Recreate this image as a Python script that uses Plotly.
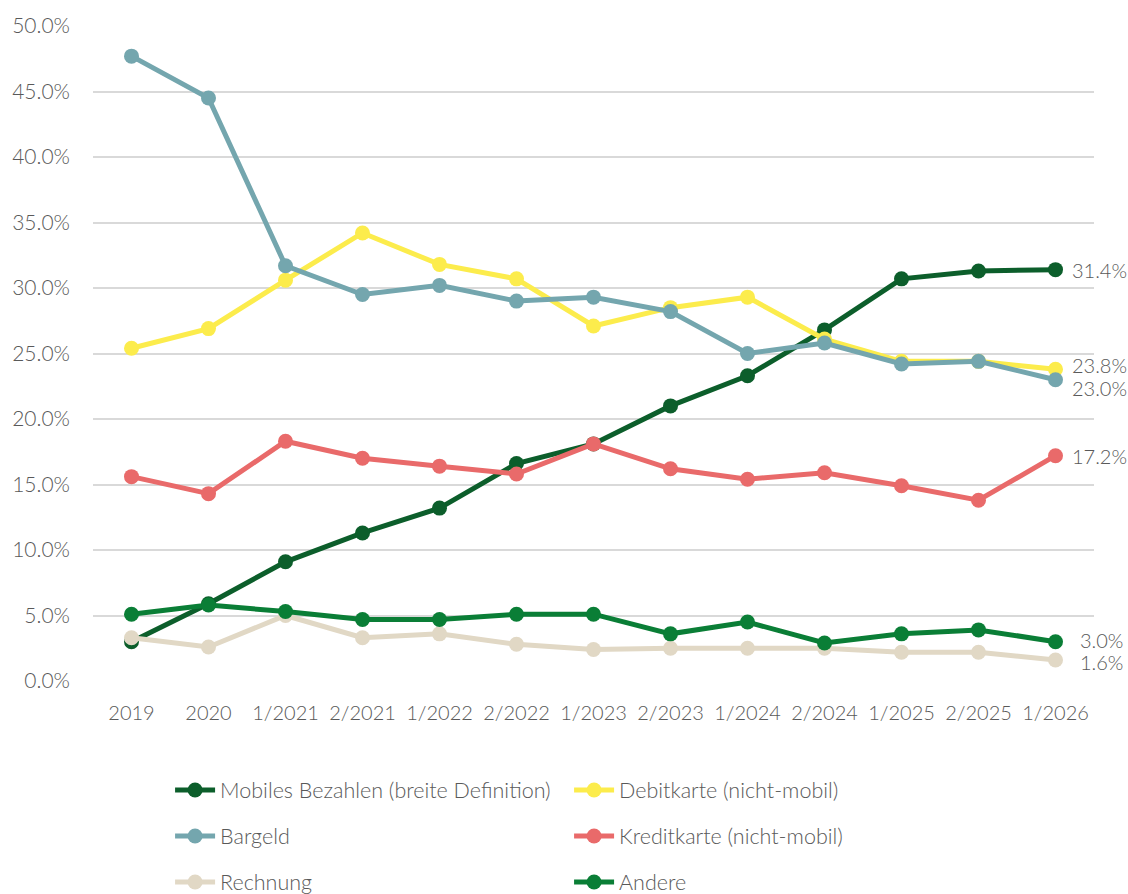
import plotly.graph_objects as go

periods = ["2019", "2020", "1/2021", "2/2021", "1/2022", "2/2022", "1/2023",
           "2/2023", "1/2024", "2/2024", "1/2025", "2/2025", "1/2026"]

mobiles = [3.0, 5.9, 9.1, 11.3, 13.2, 16.6, 18.1, 21.0, 23.3, 26.8, 30.7, 31.3, 31.4]
debitkarte = [25.4, 26.9, 30.6, 34.2, 31.8, 30.7, 27.1, 28.5, 29.3, 26.1, 24.4, 24.4, 23.8]
bargeld = [47.7, 44.5, 31.7, 29.5, 30.2, 29.0, 29.3, 28.2, 25.0, 25.8, 24.2, 24.4, 23.0]
kreditkarte = [15.6, 14.3, 18.3, 17.0, 16.4, 15.8, 18.1, 16.2, 15.4, 15.9, 14.9, 13.8, 17.2]
rechnung = [3.3, 2.6, 5.0, 3.3, 3.6, 2.8, 2.4, 2.5, 2.5, 2.5, 2.2, 2.2, 1.6]
andere = [5.1, 5.8, 5.3, 4.7, 4.7, 5.1, 5.1, 3.6, 4.5, 2.9, 3.6, 3.9, 3.0]

series = [
    ("Mobiles Bezahlen (breite Definition)", mobiles, "#0c5e2b", "legend"),
    ("Debitkarte (nicht-mobil)", debitkarte, "#fcec4c", "legend"),
    ("Bargeld", bargeld, "#74a6ae", "legend2"),
    ("Kreditkarte (nicht-mobil)", kreditkarte, "#e96a6a", "legend2"),
    ("Rechnung", rechnung, "#e1d8c5", "legend3"),
    ("Andere", andere, "#0a7e36", "legend3"),
]

# end-of-line value labels: (values, x shift, y shift)
end_labels = [
    (mobiles, 14, 0),
    (debitkarte, 14, 4),
    (bargeld, 14, -8),
    (kreditkarte, 14, 0),
    (andere, 22, 2),
    (rechnung, 22, -2),
]

FONT = "Lato"
GREY = "#595959"

fig = go.Figure()
for name, vals, color, lg in series:
    fig.add_trace(go.Scatter(
        x=periods, y=vals, name=name, mode="lines+markers",
        line=dict(color=color, width=5),
        marker=dict(color=color, size=15),
        legend=lg, cliponaxis=False,
    ))

for vals, dx, dy in end_labels:
    fig.add_annotation(
        x=periods[-1], y=vals[-1], text=f"{vals[-1]:.1f}%",
        showarrow=False, xanchor="left", yanchor="middle",
        xshift=dx, yshift=dy,
        font=dict(family=FONT, size=20, color=GREY, weight=300),
    )

legend_common = dict(
    orientation="h", x=0.077, xanchor="left", yanchor="middle",
    xref="paper", yref="container",
    entrywidth=344, entrywidthmode="pixels",
    font=dict(family=FONT, size=21.5, color=GREY, weight=300),
    bgcolor="rgba(0,0,0,0)", itemwidth=40,
)

fig.update_layout(
    width=1128, height=894,
    margin=dict(l=90, r=34, t=25, b=213),
    paper_bgcolor="white", plot_bgcolor="white",
    font=dict(family=FONT, size=20, color=GREY, weight=300),
    legend=dict(legend_common, y=1 - 790 / 894),
    legend2=dict(legend_common, y=1 - 836 / 894),
    legend3=dict(legend_common, y=1 - 882 / 894),
    xaxis=dict(
        type="category", range=[-0.5, 12.5], showgrid=False, showline=False,
        ticks="", ticklabelstandoff=18,
        tickfont=dict(family=FONT, size=20, color=GREY, weight=300),
    ),
    yaxis=dict(
        range=[0, 50], dtick=5, tickformat=".1f", ticksuffix="%",
        showgrid=True, gridcolor="#d9d9d9", gridwidth=2,
        zeroline=False, showline=False, ticks="", ticklabelstandoff=22,
        tickfont=dict(family=FONT, size=21, color=GREY, weight=300),
    ),
)

fig.write_html("out.html")
